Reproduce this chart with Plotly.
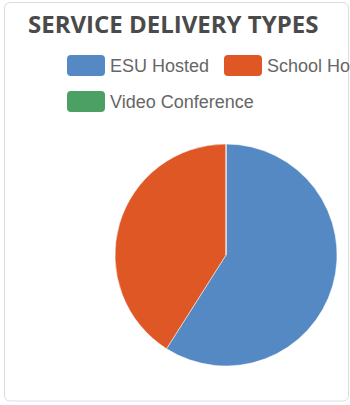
import plotly.graph_objects as go

# ---- data ----
labels = ["ESU Hosted", "School Hosted", "Video Conference"]
values = [59, 41, 0]
colors = ["#5589C4", "#DE5725", "#4CA064"]
title_text = "SERVICE DELIVERY TYPES"

W, H = 350, 405

def fx(px):
    return px / W

def fy(py):
    return 1 - py / H

def rounded_rect(x0, y0, x1, y1, r):
    # pixel coords -> paper path with quadratic corners
    pts = [
        f"M{fx(x0 + r)},{fy(y0)}",
        f"L{fx(x1 - r)},{fy(y0)}",
        f"Q{fx(x1)},{fy(y0)} {fx(x1)},{fy(y0 + r)}",
        f"L{fx(x1)},{fy(y1 - r)}",
        f"Q{fx(x1)},{fy(y1)} {fx(x1 - r)},{fy(y1)}",
        f"L{fx(x0 + r)},{fy(y1)}",
        f"Q{fx(x0)},{fy(y1)} {fx(x0)},{fy(y1 - r)}",
        f"L{fx(x0)},{fy(y0 + r)}",
        f"Q{fx(x0)},{fy(y0)} {fx(x0 + r)},{fy(y0)}",
        "Z",
    ]
    return " ".join(pts)

fig = go.Figure()
fig.add_trace(go.Pie(
    labels=labels,
    values=values,
    marker=dict(colors=colors, line=dict(color="white", width=0.5)),
    sort=False,
    direction="clockwise",
    rotation=0,
    textinfo="none",
    hoverinfo="label+value",
    showlegend=False,
    domain=dict(x=[fx(115), fx(337)], y=[fy(366), fy(144)]),
))

shapes = []
annotations = []

# card frame
shapes.append(dict(type="path", xref="paper", yref="paper",
                   path=rounded_rect(4.5, 2.5, 348.5, 401, 6),
                   line=dict(color="#dcdcdc", width=1), fillcolor="rgba(0,0,0,0)", layer="below"))

# custom legend (Chart.js style, overflowing to the right)
legend_slots = [(67, 55), (224, 55), (67, 91)]
box_w, box_h = 38, 21
for lab, col, (bx, by) in zip(labels, colors, legend_slots):
    shapes.append(dict(type="path", xref="paper", yref="paper",
                       path=rounded_rect(bx, by, bx + box_w, by + box_h, 4),
                       fillcolor=col, line=dict(width=0)))
    annotations.append(dict(text=lab, xref="paper", yref="paper",
                            x=fx(bx + box_w + 3), y=fy(by + box_h / 2),
                            xanchor="left", yanchor="middle", showarrow=False,
                            font=dict(family="Liberation Sans, Arial", size=18, color="#666666")))

# title
annotations.append(dict(text="<b>" + title_text + "</b>", xref="paper", yref="paper",
                        x=fx(26), y=fy(24), xanchor="left", yanchor="middle", showarrow=False,
                        font=dict(family="Open Sans", size=24, color="#4a4a4a")))

fig.update_layout(
    width=W, height=H,
    margin=dict(l=0, r=0, t=0, b=0),
    paper_bgcolor="white",
    plot_bgcolor="white",
    shapes=shapes,
    annotations=annotations,
)

fig.write_html(
    "out.html",
    config={"displayModeBar": False},
    post_script="document.body.style.margin='0';document.body.style.overflow='hidden';",
)
